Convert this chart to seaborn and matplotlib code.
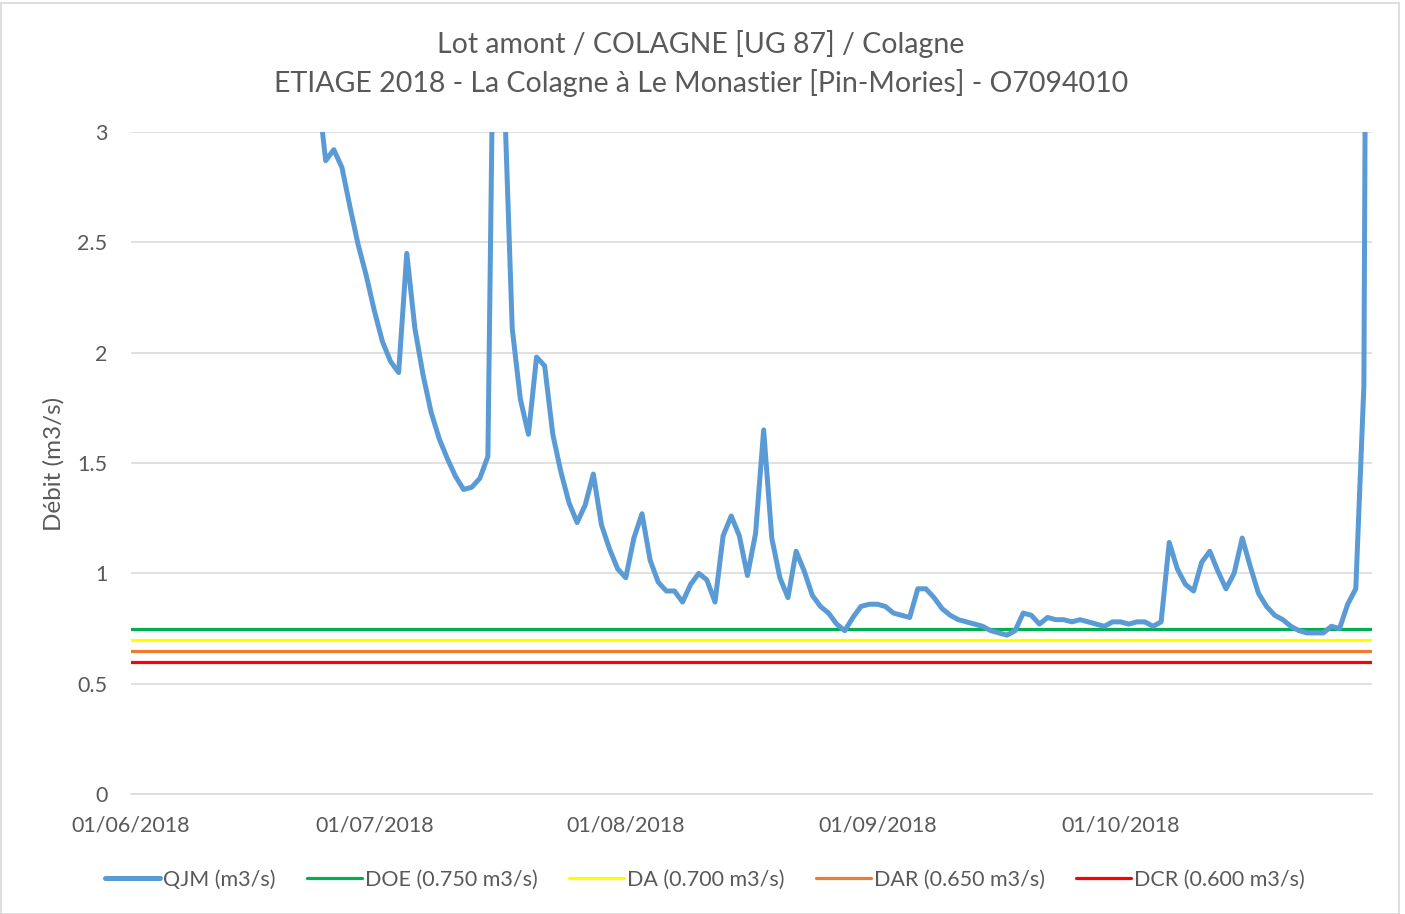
import numpy as np
import pandas as pd
import matplotlib
matplotlib.use("Agg")
import matplotlib.pyplot as plt
import seaborn as sns

# ---------------- data ----------------
dates = pd.date_range("2018-06-01", "2018-11-01", freq="D")

qjm = [
    5.8, 5.5, 5.3, 5.6, 6.1, 5.9, 5.4, 5.0, 4.8, 4.6,
    4.5, 4.3, 4.2, 4.4, 4.1, 3.9, 3.8, 3.7, 3.6, 3.5,
    3.45, 3.4, 3.3, 3.2, 2.87, 2.92, 2.84, 2.66, 2.49, 2.35,
    2.19, 2.05, 1.96, 1.91, 2.45, 2.11, 1.90, 1.73, 1.61, 1.52,
    1.44, 1.38, 1.39, 1.43, 1.53, 4.5, 3.2, 2.11, 1.79, 1.63,
    1.98, 1.94, 1.63, 1.46, 1.32, 1.23, 1.31, 1.45, 1.22, 1.11,
    1.02, 0.98, 1.16, 1.27, 1.06, 0.96, 0.92, 0.92, 0.87, 0.95,
    1.00, 0.97, 0.87, 1.17, 1.26, 1.17, 0.99, 1.18, 1.65, 1.16,
    0.98, 0.89, 1.10, 1.01, 0.90, 0.85, 0.82, 0.77, 0.74, 0.80,
    0.85, 0.86, 0.86, 0.85, 0.82, 0.81, 0.80, 0.93, 0.93, 0.89,
    0.84, 0.81, 0.79, 0.78, 0.77, 0.76, 0.74, 0.73, 0.72, 0.74,
    0.82, 0.81, 0.77, 0.80, 0.79, 0.79, 0.78, 0.79, 0.78, 0.77,
    0.76, 0.78, 0.78, 0.77, 0.78, 0.78, 0.76, 0.78, 1.14, 1.02,
    0.95, 0.92, 1.05, 1.10, 1.01, 0.93, 1.00, 1.16, 1.03, 0.91,
    0.85, 0.81, 0.79, 0.76, 0.74, 0.73, 0.73, 0.73, 0.76, 0.75,
    0.86, 0.93, 1.85, 10.0,
]

thresholds = {
    "DOE (0.750 m3/s)": 0.750,
    "DA (0.700 m3/s)": 0.700,
    "DAR (0.650 m3/s)": 0.650,
    "DCR (0.600 m3/s)": 0.600,
}
threshold_colors = ["#00B050", "#FFFF00", "#ED7D31", "#FF0000"]
qjm_label = "QJM (m3/s)"
qjm_color = "#5B9BD5"

title1 = "Lot amont / COLAGNE [UG 87] / Colagne"
title2 = "ETIAGE 2018 - La Colagne à Le Monastier [Pin-Mories] - O7094010"
ylabel = "Débit (m3/s)"
yticks = [0, 0.5, 1, 1.5, 2, 2.5, 3]
ytick_labels = ["0", "0.5", "1", "1.5", "2", "2.5", "3"]
xtick_dates = pd.date_range("2018-06-01", "2018-11-01", freq="MS")
xtick_labels = ["01/06/2018", "01/07/2018", "01/08/2018", "01/09/2018", "01/10/2018", ""]

# ---------------- plot ----------------
sns.set_style("white")
plt.rcParams["font.family"] = ["Lato", "DejaVu Sans"]
TXT = "#595959"

W, H = 1405, 914
fig = plt.figure(figsize=(W / 100, H / 100), dpi=100)
L, R, T, B = 131, 1372, 132, 794
ax = fig.add_axes([L / W, 1 - B / H, (R - L) / W, (B - T) / H])

df = pd.DataFrame({"date": dates, "value": qjm})
sns.lineplot(data=df, x="date", y="value", ax=ax, color=qjm_color,
             linewidth=3.6, label=qjm_label, zorder=3)
for (name, val), col in zip(thresholds.items(), threshold_colors):
    dft = pd.DataFrame({"date": dates, "value": np.full(len(dates), val)})
    sns.lineplot(data=dft, x="date", y="value", ax=ax, color=col,
                 linewidth=2.3, label=name, zorder=2)

ax.set_xlim(dates[0], dates[-1])
ax.set_ylim(0, 3)
ax.set_yticks(yticks)
ax.set_yticklabels(ytick_labels)
ax.set_xticks(xtick_dates)
ax.set_xticklabels(xtick_labels)
ax.set_xlabel("")
ax.set_ylabel("")

ax.yaxis.grid(True, color="#D9D9D9", linewidth=1.1)
ax.xaxis.grid(False)
for s in ["top", "right", "left"]:
    ax.spines[s].set_visible(False)
ax.spines["bottom"].set_color("#D9D9D9")
ax.spines["bottom"].set_linewidth(1.1)
ax.tick_params(axis="x", direction="out", length=4.5, width=1.1, color="#D9D9D9",
               pad=11, labelsize=15.5, labelcolor=TXT)
ax.tick_params(axis="y", length=0, pad=17, labelsize=15.5, labelcolor=TXT)

fig.text(701 / W, 1 - 44 / H, title1, ha="center", va="center", fontsize=20.5, color=TXT)
fig.text(701 / W, 1 - 83 / H, title2, ha="center", va="center", fontsize=20.5, color=TXT)
fig.text(54 / W, 1 - 464 / H, ylabel, ha="center", va="center", rotation=90,
         fontsize=17.5, color=TXT)

handles, labels = ax.get_legend_handles_labels()
ax.get_legend().remove()
leg = fig.legend(handles, labels, loc="center", bbox_to_anchor=(705 / W, 1 - 880 / H),
                 ncol=5, frameon=False, fontsize=15.5, handlelength=2.55,
                 handletextpad=0.15, columnspacing=1.45)
for t in leg.get_texts():
    t.set_color(TXT)

fig.patches.append(plt.Rectangle((0.5 / W, 0.5 / H), 1 - 7 / W, 1 - 3 / H,
                                 transform=fig.transFigure, fill=False,
                                 edgecolor="#D9D9D9", linewidth=1.2))

fig.savefig("out.png", dpi=100, facecolor="white")
